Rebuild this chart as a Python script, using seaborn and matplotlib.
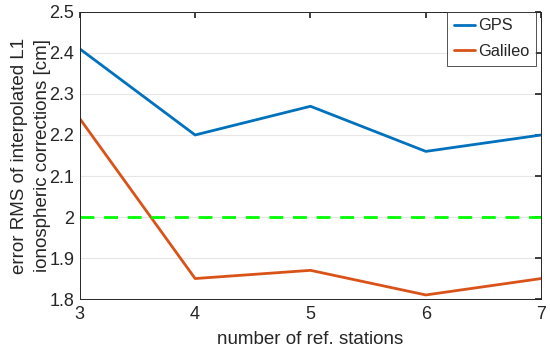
import matplotlib
matplotlib.use("Agg")
import matplotlib.pyplot as plt
import seaborn as sns
import pandas as pd

# values
stations = [3, 4, 5, 6, 7]
gps_rms = [2.41, 2.20, 2.27, 2.16, 2.20]
galileo_rms = [2.24, 1.85, 1.87, 1.81, 1.85]
threshold = 2.0
y_ticks = [1.8, 1.9, 2.0, 2.1, 2.2, 2.3, 2.4, 2.5]
y_tick_labels = ["1.8", "1.9", "2", "2.1", "2.2", "2.3", "2.4", "2.5"]

sns.set_theme(style="white")
plt.rcParams["font.family"] = ["Liberation Sans", "DejaVu Sans"]

df = pd.DataFrame({
    "stations": stations * 2,
    "rms": gps_rms + galileo_rms,
    "system": ["GPS"] * len(stations) + ["Galileo"] * len(stations),
})

fig = plt.figure(figsize=(5.5, 3.51), dpi=100)
ax = fig.add_axes([0.145, 0.148, 0.839, 0.818])

sns.lineplot(
    data=df, x="stations", y="rms", hue="system",
    palette={"GPS": "#0072BD", "Galileo": "#D95319"},
    linewidth=2, ax=ax,
)
ax.plot([stations[0], stations[-1]], [threshold, threshold],
        color="#00FF00", linestyle=(0, (5, 3.5)), linewidth=2)

ax.set_xlim(stations[0], stations[-1])
ax.set_ylim(y_ticks[0], y_ticks[-1])
ax.set_xticks(stations)
ax.set_yticks(y_ticks)
ax.set_yticklabels(y_tick_labels)
ax.yaxis.grid(True, color="#e6e6e6", linewidth=0.8)
ax.tick_params(direction="in", length=4, labelsize=13, colors="#262626",
               top=True, right=True)
ax.tick_params(axis="y", pad=4)
ax.tick_params(axis="x", pad=5)
for s in ax.spines.values():
    s.set_color("#262626")
    s.set_linewidth(0.7)

ax.set_xlabel("number of ref. stations", fontsize=13.5, color="#262626",
              labelpad=6)
ax.set_ylabel("error RMS of interpolated L1\nionospheric corrections [cm]",
              fontsize=13.5, color="#262626", labelpad=-1, linespacing=1.45)

leg = ax.legend(loc="upper right", bbox_to_anchor=(0.989, 1.0),
                fontsize=11.8, frameon=True, fancybox=False,
                handlelength=1.3, handletextpad=0.2, borderaxespad=0.0,
                borderpad=0.4, labelspacing=0.65, title=None)
leg.get_frame().set_edgecolor("#262626")
leg.get_frame().set_linewidth(0.7)

fig.savefig("out.png", dpi=100)
